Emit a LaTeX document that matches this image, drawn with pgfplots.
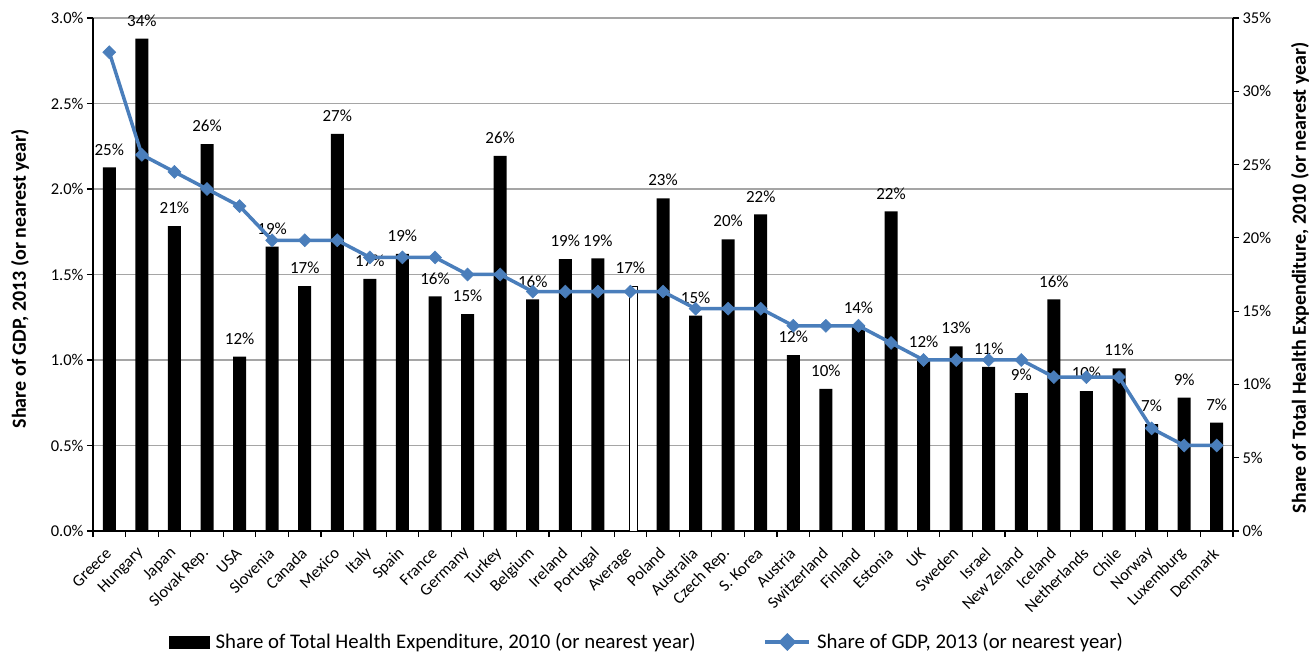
\documentclass[border=0pt]{standalone}
\usepackage{fontspec}
\setmainfont{Carlito}
\usepackage{pgfplots}
\pgfplotsset{compat=1.18}
\usepackage{pgfplotstable}

\definecolor{gdpblue}{RGB}{74,126,187}
\definecolor{gridgray}{RGB}{165,165,165}

% Share of total health expenditure, 2010 (right axis, %)
\pgfplotstableread{
x val
0 24.8
1 33.6
2 20.8
3 26.4
4 11.9
5 19.4
6 16.7
7 27.1
8 17.2
9 18.9
10 16.0
11 14.8
12 25.6
13 15.8
14 18.55
15 18.6
17 22.7
18 14.7
19 19.9
20 21.6
21 12.0
22 9.7
23 14.0
24 21.8
25 11.7
26 12.6
27 11.2
28 9.4
29 15.8
30 9.55
31 11.1
32 7.3
33 9.1
34 7.4
}\thebars

% Share of GDP, 2013 (left axis, %)
\pgfplotstableread{
x val
0 2.8
1 2.2
2 2.1
3 2.0
4 1.9
5 1.7
6 1.7
7 1.7
8 1.6
9 1.6
10 1.6
11 1.5
12 1.5
13 1.4
14 1.4
15 1.4
16 1.4
17 1.4
18 1.3
19 1.3
20 1.3
21 1.2
22 1.2
23 1.2
24 1.1
25 1.0
26 1.0
27 1.0
28 1.0
29 0.9
30 0.9
31 0.9
32 0.6
33 0.5
34 0.5
}\thegdp

\pgfplotsset{
  /pgf/number format/assume math mode=true,
  chartbase/.style={
    at={(0,0)}, anchor=south west,
    scale only axis, width=1140bp, height=513bp,
    xmin=-0.5, xmax=34.5,
    axis line style={line width=1.2bp, black},
    tick style={line width=1.2bp, black},
    tick align=outside,
    major tick length=6bp, minor tick length=6bp,
    ticklabel style={font=\fontsize{16.5bp}{19bp}\selectfont, text=black},
  },
  gdp legend/.style={legend image code/.code={
    \draw[gdpblue, line width=3.5bp] (0bp,0bp) -- (44bp,0bp);
    \fill[gdpblue] (22bp,6.5bp) -- (28.5bp,0bp) -- (22bp,-6.5bp) -- (15.5bp,0bp) -- cycle;}},
  bar legend/.style={legend image code/.code={
    \fill[black] (0bp,-6bp) rectangle (40bp,6bp);}},
}

\begin{document}
\begin{tikzpicture}[x=1bp,y=1bp]
\path[use as bounding box] (-93,-124) rectangle (1223,531);

% grid, left axis and category labels
\begin{axis}[chartbase,
  ymin=0, ymax=3, ytick={0,0.5,1,1.5,2,2.5,3},
  yticklabel={\pgfmathprintnumber[fixed,fixed zerofill,precision=1]{\tick}\%},
  axis x line*=bottom, axis y line*=left,
  ymajorgrids, grid style={gridgray, line width=1.2bp},
  xtick={0,1,...,34},
  xticklabels={Greece,Hungary,Japan,Slovak Rep.,USA,Slovenia,Canada,Mexico,Italy,Spain,France,Germany,Turkey,Belgium,Ireland,Portugal,Average,Poland,Australia,Czech Rep.,S. Korea,Austria,Switzerland,Finland,Estonia,UK,Sweden,Israel,New Zeland,Iceland,Netherlands,Chile,Norway,Luxemburg,Denmark},
  minor xtick={-0.5,0.5,...,34.5},
  major x tick style={draw=none},
  xticklabel style={rotate=45, anchor=east, inner sep=1bp},
  xticklabel shift=13bp,
  ylabel={Share of GDP, 2013 (or nearest year)},
  every axis y label/.style={at={(axis description cs:-0.064,0.492)}, rotate=90, anchor=center,
    font=\bfseries\fontsize{20bp}{24bp}\selectfont},
]
\addplot[draw=none] coordinates {(0,0)};
\end{axis}

% bars on the right axis
\begin{axis}[chartbase,
  ymin=0, ymax=35, ytick={0,5,10,15,20,25,30,35},
  yticklabel={\pgfmathprintnumber{\tick}\%},
  axis y line*=right, axis x line=none,
  xtick=\empty,
  ybar, bar width=13bp,
  nodes near coords={\pgfmathprintnumber[fixed,precision=0]{\pgfplotspointmeta}\%},
  every node near coord/.append style={font=\fontsize{17bp}{20bp}\selectfont, inner sep=0pt, yshift=12bp, text=black},
  ylabel={Share of Total Health Expenditure, 2010 (or nearest year)},
  every axis y label/.style={at={(axis description cs:1.0588,0.494)}, rotate=90, anchor=center,
    font=\bfseries\fontsize{20bp}{24bp}\selectfont},
]
\addplot[fill=black, draw=none, bar shift=0pt] table[x=x, y=val] {\thebars};
\addplot[fill=white, draw=black, line width=0.8bp, bar width=8bp, bar shift=3bp,
  every node near coord/.append style={xshift=-3bp}] coordinates {(16,16.7)};
\end{axis}

% GDP share line and legend
\begin{axis}[chartbase, hide axis, ymin=0, ymax=3,
  legend style={at={(0.486,-0.2164)}, anchor=center, draw=none, fill=none,
    legend columns=2, font=\fontsize{20.8bp}{24bp}\selectfont,
    /tikz/every odd column/.append style={column sep=4bp},
    /tikz/every even column/.append style={column sep=66bp}},
]
\addlegendimage{bar legend}
\addlegendentry{Share of Total Health Expenditure, 2010 (or nearest year)}
\addplot[gdpblue, line width=3.5bp, mark=square*, mark size=4.6bp,
  mark options={rotate=45, solid, fill=gdpblue, draw=gdpblue, line width=0.5bp},
  gdp legend]
  table[x=x, y=val] {\thegdp};
\addlegendentry{Share of GDP, 2013 (or nearest year)}
\end{axis}
\end{tikzpicture}
\end{document}
